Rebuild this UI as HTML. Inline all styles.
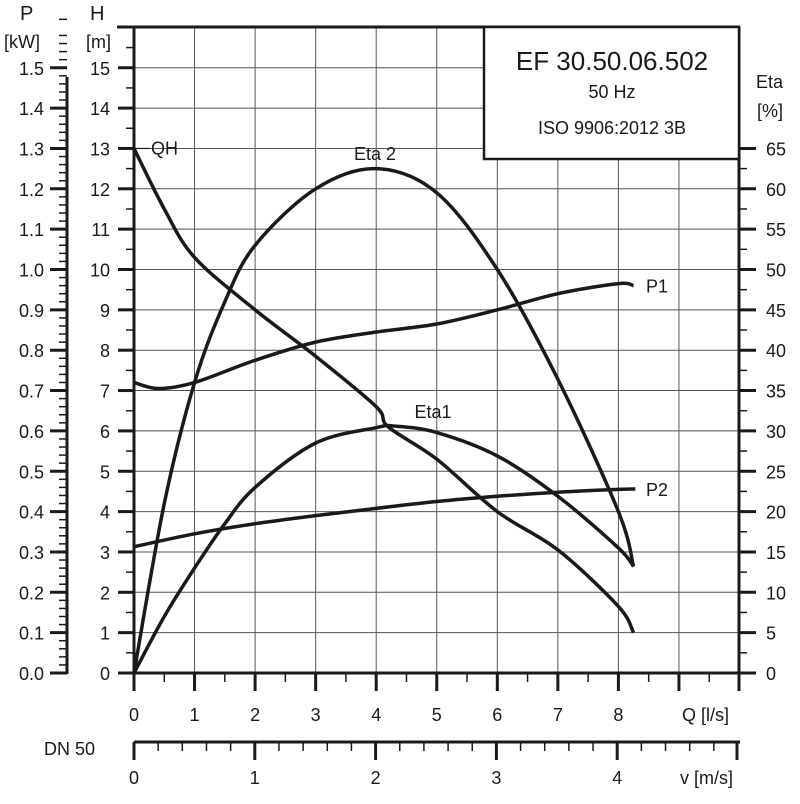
<!DOCTYPE html>
<html><head><meta charset="utf-8"><style>
html,body{margin:0;padding:0;background:#fff;}
svg{display:block;font-family:"Liberation Sans",Arial,sans-serif;}
</style></head><body>
<svg id="chart" width="800" height="804" viewBox="0 0 800 804">
<g id="grid"></g>
<g id="axes"></g>
<g id="curves"></g>
<g>
<rect x="484" y="27" width="255" height="132" fill="#fff" stroke="#1a1a1a" stroke-width="2.5"/>
<text x="612" y="70" font-size="26" text-anchor="middle" fill="#1a1a1a">EF 30.50.06.502</text>
<text x="612" y="98" font-size="18" text-anchor="middle" fill="#1a1a1a">50 Hz</text>
<text x="612" y="134" font-size="18" text-anchor="middle" fill="#1a1a1a">ISO 9906:2012 3B</text>
</g>
<g id="labels" font-size="18" fill="#1a1a1a">
<text x="20" y="20" font-size="20">P</text>
<text x="4" y="48">[kW]</text>
<text x="90" y="20" font-size="20">H</text>
<text x="86" y="48">[m]</text>
<text x="756" y="88">Eta</text>
<text x="757" y="117">[%]</text>
<text x="682" y="721">Q [l/s]</text>
<text x="44" y="755">DN 50</text>
<text x="680" y="784">v [m/s]</text>
</g>
</svg>
<script>
const NS='http://www.w3.org/2000/svg';
const hTicks=[0,1,2,3,4,5,6,7,8,9,10,11,12,13,14,15];
const pTicks=['0.0','0.1','0.2','0.3','0.4','0.5','0.6','0.7','0.8','0.9','1.0','1.1','1.2','1.3','1.4','1.5'];
const etaTicks=[0,5,10,15,20,25,30,35,40,45,50,55,60,65];
const qTicks=[0,1,2,3,4,5,6,7,8];
const vTicks=[0,1,2,3,4];
// curve data
const qhQ=[0,0.5,1,2,3,4,4.2,5,6,7,8,8.25];
const qhH=[13,11.5,10.3,9.0,7.85,6.6,6.1,5.3,4.0,3.05,1.65,1.0];
const eta2Q=[0,0.5,1,1.5,2,3,4,5,6,7,8,8.25];
const eta2V=[0,21,36,46,53,60,62.5,59.5,50,36.4,20,13.2];
const eta1Q=[0,0.5,1,1.5,2,3,4,4.3,5,6,7,8,8.25];
const eta1V=[0,7,13,18.5,23,28.5,30.4,30.6,29.8,26.9,21.9,15.5,13.2];
const p1Q=[0,0.4,1,2,3,4,5,6,7,8,8.25];
const p1V=[0.72,0.705,0.72,0.775,0.82,0.845,0.865,0.9,0.94,0.965,0.96];
const p2Q=[0,1,2,3,4,5,6,7,8,8.28];
const p2V=[0.313,0.345,0.37,0.39,0.408,0.425,0.438,0.448,0.455,0.456];

const X0=134,XU=60.55,Y0=673,YU=40.35,TOP=27,XR=739;
const x=q=>X0+q*XU;
const yH=h=>Y0-h*YU;
const yP=p=>Y0-p*10*YU;
const yE=e=>Y0-e/5*YU;
const xV=v=>X0+v*120.8;

function mk(parent,tag,attrs,name){const e=document.createElementNS(NS,tag);for(const k in attrs)e.setAttribute(k,attrs[k]);


document.getElementById(parent).appendChild(e);return e;}
function line(p,x1,y1,x2,y2,w,c,name){return mk(p,'line',{x1,y1,x2,y2,stroke:c||'#1a1a1a','stroke-width':w},name);}
function txt(p,s,tx,ty,anchor,name,size){const t=mk(p,'text',{x:tx,y:ty,'text-anchor':anchor,'font-size':size||18,fill:'#1a1a1a'},name);t.textContent=s;return t;}

// grid
for(let q=1;q<=9;q++)line('grid',x(q),TOP,x(q),Y0,1,'#555','grid-line-v');
for(let h=1;h<=15;h++)line('grid',X0,yH(h),XR,yH(h),1,'#555','grid-line-h');
// frame
line('axes',117,TOP,XR+1,TOP,3,'#1a1a1a','top-border');
line('axes',X0,TOP,X0,Y0+18,3,'#1a1a1a','h-axis-line');
line('axes',XR,TOP,XR,Y0+18,3,'#1a1a1a','eta-axis-line');
line('axes',X0-16,Y0,XR+17,Y0,3,'#1a1a1a','q-axis-line');
// H ticks
hTicks.forEach(h=>{line('axes',X0-16,yH(h),X0,yH(h),3,'#1a1a1a','h-tick');txt('axes',String(h),110,yH(h)+7,'end','h-tick-label');});
for(let h=0.5;h<15.9;h+=1)line('axes',X0-8,yH(h),X0,yH(h),1.5,'#1a1a1a','h-minor-tick');
// P axis
line('axes',67,TOP+50,67,Y0+1,3,'#1a1a1a','p-axis-line');
pTicks.forEach(p=>{const v=parseFloat(p);line('axes',50,yP(v),67,yP(v),3,'#1a1a1a','p-tick');txt('axes',p,44,yP(v)+7,'end','p-tick-label');});
for(let i=1;i<=81;i++){if(i%5)line('axes',59,yP(i*0.02),67,yP(i*0.02),1.5,'#1a1a1a','p-minor-tick');}
// Eta axis
etaTicks.forEach(e=>{line('axes',XR,yE(e),XR+17,yE(e),3,'#1a1a1a','eta-tick');txt('axes',String(e),766,yE(e)+7,'start','eta-tick-label');});
for(let e=2.5;e<67;e+=5)line('axes',XR,yE(e),XR+8,yE(e),1.5,'#1a1a1a','eta-minor-tick');
// Q ticks
qTicks.forEach(q=>{line('axes',x(q),Y0,x(q),Y0+18,3,'#1a1a1a','q-tick');txt('axes',String(q),x(q),721,'middle','q-tick-label');});
line('axes',x(9),Y0,x(9),Y0+18,3,'#1a1a1a','q-tick');
for(let q=0.5;q<10;q+=1)line('axes',x(q),Y0,x(q),Y0+9,1.5,'#1a1a1a','q-minor-tick');
// v axis
line('axes',X0,742,XR+1,742,3,'#1a1a1a','v-axis-line');
vTicks.forEach(v=>{line('axes',xV(v),742,xV(v),760,3,'#1a1a1a','v-tick');txt('axes',String(v),xV(v),784,'middle','v-tick-label');});
for(let i=1;i<=25;i++){const v=i*0.2;if(i%5&&xV(v)<XR)line('axes',xV(v),742,xV(v),751,1.5,'#1a1a1a','v-minor-tick');}
line('axes',XR-2,742,XR-2,760,3,'#1a1a1a','v-end-tick');

function smooth(xs,ys){const P=xs.map((q,i)=>[x(q),ys[i]]);let d='M'+P[0][0]+','+P[0][1];
for(let i=0;i<P.length-1;i++){const p0=P[i-1]||P[i],p1=P[i],p2=P[i+1],p3=P[i+2]||P[i+1];
const c1=[p1[0]+(p2[0]-p0[0])/6,p1[1]+(p2[1]-p0[1])/6],c2=[p2[0]-(p3[0]-p1[0])/6,p2[1]-(p3[1]-p1[1])/6];
d+=` C${c1[0]},${c1[1]} ${c2[0]},${c2[1]} ${p2[0]},${p2[1]}`;}return d;}
function curve(xs,ys,name){mk('curves','path',{d:smooth(xs,ys),fill:'none',stroke:'#1a1a1a','stroke-width':3.5,'stroke-linejoin':'round'},name);}
curve(qhQ,qhH.map(yH),'qh-curve');
curve(eta2Q,eta2V.map(yE),'eta2-curve');
curve(eta1Q,eta1V.map(yE),'eta1-curve');
curve(p1Q,p1V.map(yP),'p1-curve');
curve(p2Q,p2V.map(yP),'p2-curve');
// curve labels
line('curves',X0,yH(13),150,yH(13),1.2,'#1a1a1a','qh-label-leader');
txt('curves','QH',151,yH(13)+6,'start','qh-label');
txt('curves','Eta 2',375,160,'middle','eta2-label');
txt('curves','Eta1',433,418,'middle','eta1-label');
txt('curves','P1',646,yP(0.96)+7,'start','p1-label');
txt('curves','P2',646,yP(0.456)+7,'start','p2-label');
</script>
</body></html>
